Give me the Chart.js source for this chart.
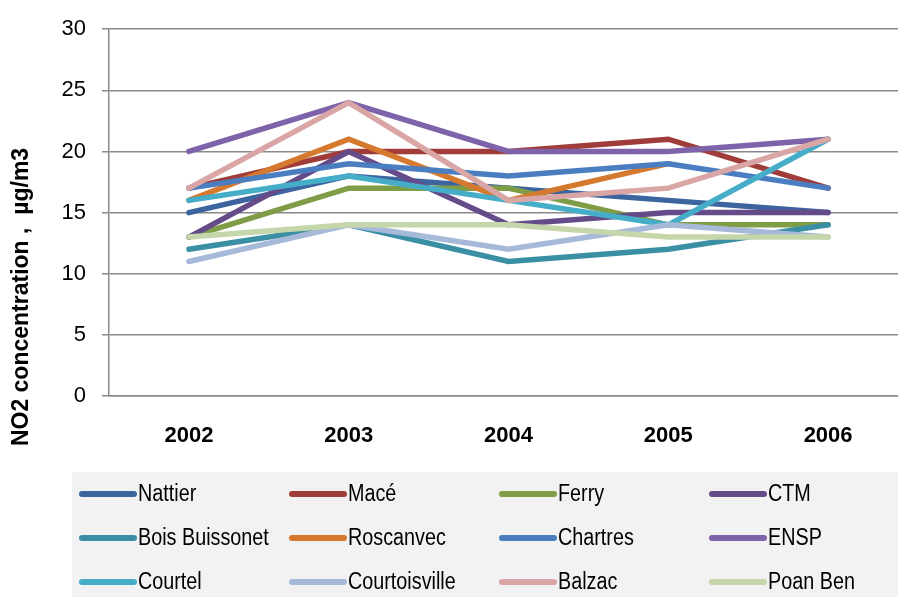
<!DOCTYPE html>
<html>
<head>
<meta charset="utf-8">
<script src="https://cdn.jsdelivr.net/npm/chart.js@4"></script>
<style>
  html, body { margin: 0; padding: 0; background: #fff; overflow: hidden; }
  #wrap { width: 908px; height: 597px; }
</style>
</head>
<body>
<div id="wrap"><canvas id="chart" width="908" height="597"></canvas></div>
<script>
const years = ['2002', '2003', '2004', '2005', '2006']
const names = ['Nattier', 'Macé', 'Ferry', 'CTM', 'Bois Buissonet', 'Roscanvec',
  'Chartres', 'ENSP', 'Courtel', 'Courtoisville', 'Balzac', 'Poan Ben']

const nattier = [15, 18, 17, 16, 15]
const mace = [17, 20, 20, 21, 17]
const ferry = [13, 17, 17, 14, 14]
const ctm = [13, 20, 14, 15, 15]
const boisBuissonet = [12, 14, 11, 12, 14]
const roscanvec = [16, 21, 16, 19, null]
const chartres = [17, 19, 18, 19, 17]
const ensp = [20, 24, 20, 20, 21]
const courtel = [16, 18, 16, 14, 21]
const courtoisville = [11, 14, 12, 14, 13]
const balzac = [17, 24, 16, 17, 21]
const poanBen = [13, 14, 14, 13, 13]

const yTicks = [0, 5, 10, 15, 20, 25, 30]
const yTitle = 'NO2 concentration ,  µg/m3'

const series = [nattier, mace, ferry, ctm, boisBuissonet, roscanvec,
  chartres, ensp, courtel, courtoisville, balzac, poanBen]
const colors = ['#3c65a0', '#a03d3a', '#7f9c47', '#654b88', '#3a8fa4', '#d5792f',
  '#4a7ec1', '#7f63aa', '#46adc8', '#a6b9d9', '#d9a5a5', '#c5d7aa']

const FONT = "'Liberation Sans', Arial, sans-serif"

// grey legend box with 4 fixed columns + the y title (sits lower than the plot centre in the original)
const extras = {
  id: 'extras',
  afterDraw(chart) {
    const ctx = chart.ctx
    ctx.save()
    ctx.fillStyle = '#f2f2f2'
    ctx.fillRect(72, 472, 836, 130)
    ctx.textBaseline = 'middle'
    ctx.lineCap = 'round'
    ctx.lineWidth = 6
    names.forEach((name, i) => {
      const col = i % 4, row = Math.floor(i / 4)
      const x = 82 + col * 210
      const y = 494 + row * 44
      ctx.strokeStyle = colors[i]
      ctx.beginPath()
      ctx.moveTo(x, y)
      ctx.lineTo(x + 52, y)
      ctx.stroke()
      // original text is a condensed face, squeeze it horizontally
      ctx.save()
      ctx.translate(x + 56, y + 1)
      ctx.scale(0.86, 1)
      ctx.font = '23px ' + FONT
      ctx.fillStyle = '#000'
      ctx.fillText(name, 0, 0)
      ctx.restore()
    })

    ctx.translate(22, 297)
    ctx.rotate(-Math.PI / 2)
    ctx.font = 'bold 23px ' + FONT
    ctx.fillStyle = '#000'
    ctx.textAlign = 'center'
    ctx.fillText(yTitle, 0, 0)
    ctx.restore()
  }
}

new Chart(document.getElementById('chart'), {
  type: 'line',
  data: {
    labels: years,
    datasets: series.map((vals, i) => ({
      label: names[i],
      data: vals,
      borderColor: colors[i],
      backgroundColor: colors[i],
      borderWidth: 5.5,
      borderCapStyle: 'round',
      pointRadius: 0,
      tension: 0,
      order: -i
    }))
  },
  options: {
    responsive: false,
    animation: false,
    layout: { padding: { top: 26, right: 0, bottom: 125, left: 0 } },
    plugins: { legend: { display: false }, tooltip: { enabled: false } },
    scales: {
      x: {
        offset: true,
        grid: { display: false, drawTicks: false },
        border: { display: true, color: '#8a8a8a', width: 1.5 },
        ticks: { color: '#000', padding: 27, font: { family: FONT, size: 22, weight: 'bold' } },
        afterFit(s) { s.height = 76 }
      },
      y: {
        min: 0,
        max: 30,
        afterBuildTicks(s) { s.ticks = yTicks.map(v => ({ value: v })) },
        grid: { color: '#8a8a8a', lineWidth: 1.5, tickLength: 7 },
        border: { display: true, color: '#8a8a8a', width: 1.5 },
        ticks: { color: '#000', padding: 16, font: { family: FONT, size: 22 } },
        afterFit(s) { s.width = 109 }
      }
    }
  },
  plugins: [extras]
})
</script>
</body>
</html>
